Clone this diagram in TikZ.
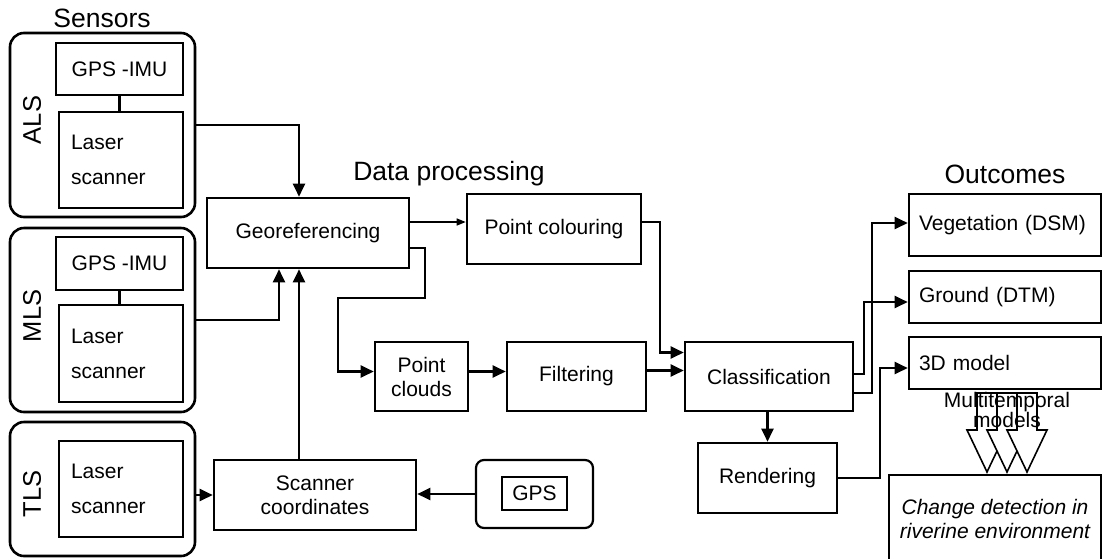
\documentclass[tikz,border=0pt]{standalone}
\usepackage{fontspec}
\setmainfont{Liberation Sans}
\usetikzlibrary{arrows.meta}

\begin{document}
\begin{tikzpicture}[
    x=1pt, y=-1pt,
    box/.style={draw, rectangle, line width=2.6pt, inner sep=0pt, align=center, font=\fontsize{21}{24}\selectfont},
    sensorbox/.style={draw, rectangle, line width=2.6pt, rounded corners=14pt, inner sep=0pt},
    laserbox/.style={box, inner xsep=12pt, text width=100pt, align=left, font=\fontsize{21}{35}\selectfont},
    outbox/.style={box, inner xsep=10pt, text width=172pt, align=left},
    head/.style={font=\fontsize{26.5}{30}\selectfont},
    sidelabel/.style={rotate=90, font=\fontsize{25.5}{30}\selectfont},
    arr/.style={-{Triangle[length=13pt, width=12pt]}, line width=2.2pt},
    thinarr/.style={-{Triangle[length=9pt, width=7pt]}, line width=1.4pt}
]
    \path[use as bounding box, fill=white] (0,0) rectangle (1103,558);

    % sensors
    \node[head] (sensors) at (102,18) {Sensors};
    \node[sensorbox, minimum width=185pt, minimum height=184pt] (als) at (102.5,125) {};
    \node[box, minimum width=127pt, minimum height=52pt] (alsgps) at (119.5,69) {GPS -IMU};
    \node[laserbox, minimum height=96pt] (alslaser) at (121,160) {Laser\\scanner};
    \node[sidelabel] (alslabel) at (32,120) {ALS};

    \node[sensorbox, minimum width=185pt, minimum height=184pt] (mls) at (102.5,320) {};
    \node[box, minimum width=127pt, minimum height=53pt] (mlsgps) at (119.5,263.5) {GPS -IMU};
    \node[laserbox, minimum height=97pt] (mlslaser) at (121,353.5) {Laser\\scanner};
    \node[sidelabel] (mlslabel) at (32,316) {MLS};

    \node[sensorbox, minimum width=185pt, minimum height=134pt] (tls) at (102.5,489) {};
    \node[laserbox, minimum height=96pt] (tlslaser) at (121,489) {Laser\\scanner};
    \node[sidelabel] (tlslabel) at (32,494) {TLS};

    \draw[line width=2.2pt] (alsgps.south) -- (alsgps.south |- alslaser.north);
    \draw[line width=2.2pt] (mlsgps.south) -- (mlsgps.south |- mlslaser.north);

    % data processing
    \node[head] (processing) at (449,174) {Data processing};
    \node[box, minimum width=202pt, minimum height=70pt] (georef) at (308,233) {Georeferencing};
    \node[box, minimum width=202pt, minimum height=70pt] (scancoord) at (315,495) {Scanner\\coordinates};
    \node[sensorbox, rounded corners=8pt, line width=2.2pt, minimum width=117pt, minimum height=68pt] (gpsunit) at (534.5,494) {};
    \node[box, line width=1.6pt, minimum width=65pt, minimum height=33pt] (gps) at (534.5,493.5) {GPS};
    \node[box, minimum width=174pt, minimum height=70pt] (colouring) at (554,229) {Point colouring};
    \node[box, minimum width=93pt, minimum height=69pt] (clouds) at (421.5,376.5) {Point\\clouds};
    \node[box, minimum width=139pt, minimum height=69pt] (filtering) at (576.5,376.5) {Filtering};
    \node[box, minimum width=168pt, minimum height=69pt] (classif) at (769,376.5) {Classification};
    \node[box, minimum width=139pt, minimum height=70pt] (render) at (767.5,478) {Rendering};

    % outcomes
    \node[head] (outcomes) at (1005,174) {Outcomes};
    \node[outbox, minimum height=62pt] (veg) at (1005,225) {Vegetation (DSM)};
    \node[outbox, minimum height=52pt] (ground) at (1005,297) {Ground (DTM)};
    \node[outbox, minimum height=52pt] (model) at (1005,363) {3D model};
    \node[box, minimum width=212pt, minimum height=88pt, font=\itshape\fontsize{21}{23.5}\selectfont] (change) at (995,519) {Change detection in\\riverine environment};

    % connectors
    \draw[arr] (als.east) -| ([xshift=-9pt]georef.north);
    \draw[arr] (mls.east) -| ([xshift=-29pt]georef.south);
    \draw[arr] ([xshift=-16pt]scancoord.north) -- ([xshift=-9pt]georef.south);
    \draw[arr] (tls.east |- scancoord.west) -- (scancoord.west);
    \draw[arr] (gpsunit.west) -- (gpsunit.west -| scancoord.east);
    \draw[thinarr] ([yshift=11pt]georef.east) -- ([yshift=11pt]georef.east -| colouring.west);
    \draw[arr] ([yshift=-15pt]georef.east) -- ++(15,0) |- (338,298) |- ([yshift=5pt]clouds.west);
    \draw[arr] ([yshift=5pt]clouds.east) -- ([yshift=5pt]filtering.west);
    \draw[arr] ([yshift=6pt]filtering.east) -- ([yshift=6pt]classif.west);
    \draw[arr] ([yshift=7pt]colouring.east) -- ++(18,0) |- ([yshift=24pt]classif.west);
    \draw[arr] ([yshift=2.5pt]classif.east) -- ++(10,0) |- ([yshift=-5pt]ground.west);
    \draw[arr] ([yshift=-16.5pt]classif.east) -- ++(18,0) |- ([yshift=2pt]veg.west);
    \draw[arr] (render.north |- classif.south) -- (render.north);
    \draw[arr] (render.east) -- ++(42,0) |- ([yshift=-5pt]model.west);

    % multitemporal arrows
    \foreach \x in {987,1007,1027}
        \filldraw[fill=white, line width=1.6pt] (\x-10,393) -- (\x-10,430) -- (\x-20,430) -- (\x,472)
            -- (\x+20,430) -- (\x+10,430) -- (\x+10,393) -- cycle;
    \node[align=center, font=\fontsize{21}{14}\selectfont] (multi) at (1007,410) {Multitemporal\\models};
\end{tikzpicture}
\end{document}
